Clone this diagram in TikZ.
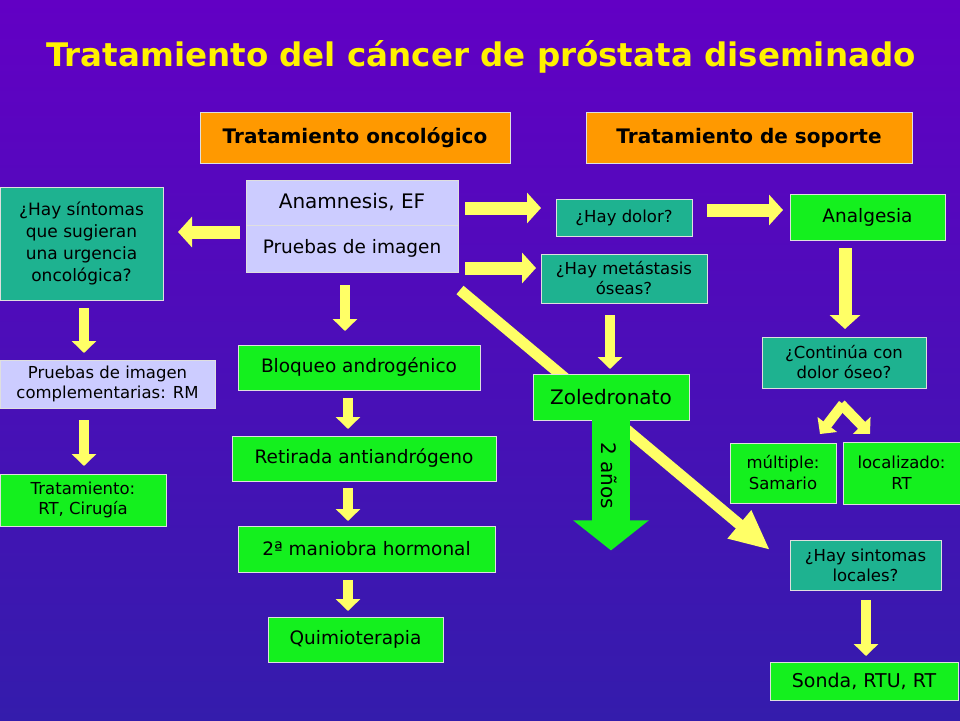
\documentclass[tikz,border=0pt]{standalone}
\usepackage{fontspec}
\setmainfont{DejaVu Sans}
\usetikzlibrary{arrows.meta, positioning}
\definecolor{bgtop}{RGB}{98,0,196}
\definecolor{bgbot}{RGB}{52,28,172}
\definecolor{tealbox}{RGB}{30,178,144}
\definecolor{greenbox}{RGB}{20,240,30}
\definecolor{lavbox}{RGB}{204,204,255}
\definecolor{orangebox}{RGB}{255,153,0}
\definecolor{arrowyellow}{RGB}{255,255,102}
\tikzset{
    box/.style={rectangle, draw=white!75!gray, line width=0.8pt, align=center, inner sep=2pt, font=\fontsize{18.5}{22}\selectfont},
    tbox/.style={box, fill=tealbox},
    gbox/.style={box, fill=greenbox},
    lbox/.style={box, fill=lavbox},
    obox/.style={box, fill=orangebox, font=\fontsize{20}{24}\selectfont\bfseries},
    fat/.style={arrowyellow, line width=13pt, -{Triangle[length=14pt, width=30pt]}},
    fatsmall/.style={arrowyellow, line width=10pt, -{Triangle[length=12pt, width=24pt]}},
}
\begin{document}
\begin{tikzpicture}[x=1pt, y=-1pt]
        % Background
        \shade[top color=bgtop, bottom color=bgbot] (0,0) rectangle (960,720);
        \useasboundingbox (0,0) rectangle (960,720);
        \node[text=yellow, font=\fontsize{32.5}{36}\selectfont\bfseries] (title) at (481,57) {Tratamiento del cáncer de próstata diseminado};

        % Diagonal arrow behind the boxes
        \coordinate (diagstart) at (460,290);
        \coordinate (diagend) at (770,550);
        \draw[arrowyellow, line width=11pt, -{Triangle[length=40pt, width=34pt]}] (diagstart) -- (diagend);

        % Headers
        \node[obox, minimum width=310pt, minimum height=51pt] (onco) at (355,137.5) {Tratamiento oncológico};
        \node[obox, minimum width=326pt, minimum height=51pt] (soporte) at (749,137.5) {Tratamiento de soporte};

        % Centre column
        \node[lbox, minimum width=212pt, minimum height=45pt, font=\fontsize{20}{24}\selectfont] (anam) at (352,202.5) {Anamnesis, EF};
        \node[lbox, minimum width=212pt, minimum height=47pt] (pruebas) at (352,248.5) {Pruebas de imagen};
        \node[gbox, minimum width=242pt, minimum height=45pt] (bloqueo) at (359,367.5) {Bloqueo androgénico};
        \node[gbox, minimum width=264pt, minimum height=45pt] (retirada) at (364,458.5) {Retirada antiandrógeno};
        \node[gbox, minimum width=257pt, minimum height=46pt] (maniobra) at (366.5,549) {2ª maniobra hormonal};
        \node[gbox, minimum width=175pt, minimum height=45pt] (quimio) at (355.5,639.5) {Quimioterapia};

        % Left column
        \node[tbox, minimum width=163pt, minimum height=113pt, font=\fontsize{17}{22}\selectfont] (urgencia) at (81.5,243.5) {¿Hay síntomas\\que sugieran\\una urgencia\\oncológica?};
        \node[lbox, minimum width=215pt, minimum height=48pt, font=\fontsize{16.5}{20}\selectfont] (rm) at (107.5,384) {Pruebas de imagen\\complementarias: RM};
        \node[gbox, minimum width=166pt, minimum height=52pt, font=\fontsize{16.5}{20}\selectfont] (cirugia) at (83,500) {Tratamiento:\\RT, Cirugía};

        % Right columns
        \node[tbox, minimum width=136pt, minimum height=37pt, font=\fontsize{16.5}{20}\selectfont] (dolor) at (624,217.5) {¿Hay dolor?};
        \node[gbox, minimum width=155pt, minimum height=46pt] (analgesia) at (867.5,217) {Analgesia};
        \node[tbox, minimum width=166pt, minimum height=49pt, font=\fontsize{16.5}{20}\selectfont] (metastasis) at (624,278.5) {¿Hay metástasis\\óseas?};
        \node[gbox, minimum width=156pt, minimum height=46pt, font=\fontsize{20}{24}\selectfont] (zoledronato) at (611,397) {Zoledronato};
        \node[tbox, minimum width=164pt, minimum height=51pt, font=\fontsize{16.5}{20}\selectfont] (continua) at (844,362.5) {¿Continúa con\\dolor óseo?};
        \node[gbox, minimum width=106pt, minimum height=60pt, font=\fontsize{16.5}{21}\selectfont] (samario) at (783,473) {múltiple:\\Samario};
        \node[gbox, minimum width=117pt, minimum height=62pt, font=\fontsize{16.5}{21}\selectfont] (localizado) at (901.5,473) {localizado:\\RT};
        \node[tbox, minimum width=151pt, minimum height=50pt, font=\fontsize{16.5}{20}\selectfont] (locales) at (865.5,565) {¿Hay sintomas\\locales?};
        \node[gbox, minimum width=188pt, minimum height=38pt, font=\fontsize{19}{22}\selectfont] (sonda) at (864,681) {Sonda, RTU, RT};

        % Green arrow "2 años"
        \draw[greenbox, line width=38pt, -{Triangle[length=30pt, width=74pt]}] (zoledronato.south) -- ++(0,130) coordinate (anosend);
        \node[rotate=-90, font=\fontsize{20}{22}\selectfont] (anos) at (609,476) {2 años};

        % Yellow arrows
        \draw[fat] (240,232) -- (178,232);
        \draw[fatsmall] (84,308) -- (84,353);
        \draw[fatsmall] (84,420) -- (84,466);
        \draw[fatsmall] (345,285) -- (345,331);
        \draw[fatsmall] (348,398) -- (348,429);
        \draw[fatsmall] (348,488) -- (348,521);
        \draw[fatsmall] (348,580) -- (348,611);
        \draw[fat] (465,208) -- (541,208);
        \draw[fat] (465,268) -- (536,268);
        \draw[fat] (707,210) -- (783,210);
        \draw[fatsmall] (610,315) -- (610,369);
        \draw[fat] (845,248) -- (845,329);
        \draw[fatsmall] (843,404) -- (820,434);
        \draw[fatsmall] (841,404) -- (870,434);
        \draw[fatsmall] (866,600) -- (866,656);
\end{tikzpicture}
\end{document}
